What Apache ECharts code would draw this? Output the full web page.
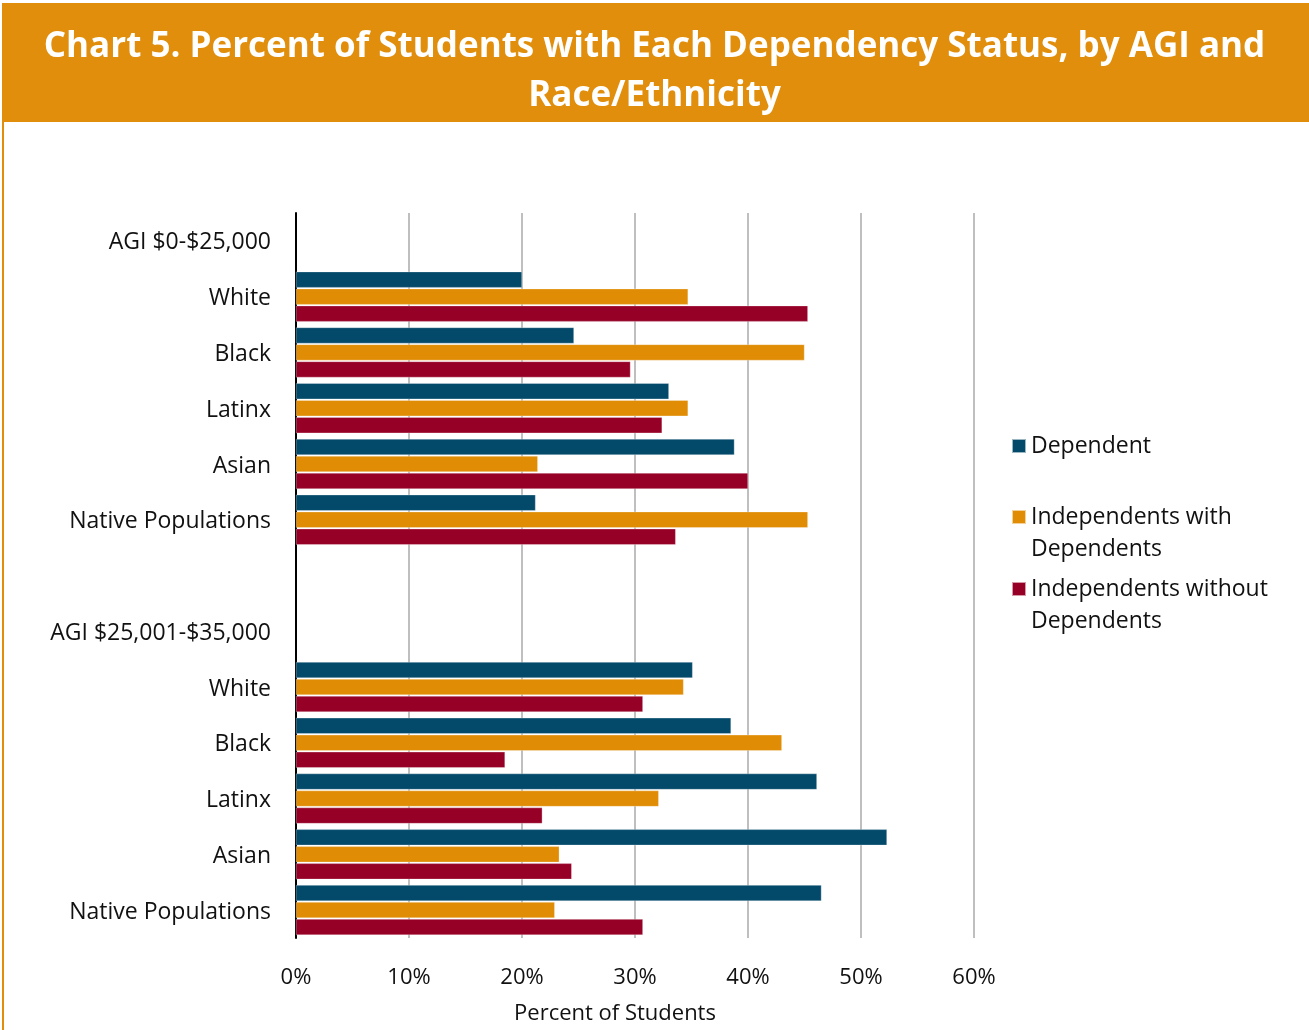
<!DOCTYPE html>
<html>
<head>
<meta charset="utf-8">
<title>Chart 5</title>
<script src="https://cdn.jsdelivr.net/npm/echarts@6/dist/echarts.min.js"></script>
<style>
  html, body { margin: 0; padding: 0; background: #fff; }
  #chart { width: 1309px; height: 1030px; }
</style>
</head>
<body>
<div id="chart"></div>
<script>
// Rows of the y axis, top to bottom (group headers and a spacer row carry no bars)
const categories = [
  'AGI $0-$25,000', 'White', 'Black', 'Latinx', 'Asian', 'Native Populations',
  '',
  'AGI $25,001-$35,000', 'White', 'Black', 'Latinx', 'Asian', 'Native Populations'
];

// Percent of students in each row
const dependent = [null, 20.0, 24.6, 33.0, 38.8, 21.2, null, null, 35.1, 38.5, 46.1, 52.3, 46.5];
const indepWith = [null, 34.7, 45.0, 34.7, 21.4, 45.3, null, null, 34.3, 43.0, 32.1, 23.3, 22.9];
const indepWithout = [null, 45.3, 29.6, 32.4, 40.0, 33.6, null, null, 30.7, 18.5, 21.8, 24.4, 30.7];

const xTicks = [0, 10, 20, 30, 40, 50, 60];

const seriesNames = ['Dependent', 'Independents with Dependents', 'Independents without Dependents'];
const colors = ['#03496A', '#E08C04', '#960026'];

const FONT = '"Open Sans", "Liberation Sans", sans-serif';
const chart = echarts.init(document.getElementById('chart'), null, { renderer: 'canvas' });

// Square swatch sitting at the top of a taller box, so it lines up with
// the first line of a two-line legend label.
const TALL_SWATCH = 'path://M0,0L14,0L14,14L0,14Z M0,46L14,46L14,46L0,46Z';

function legendFor(name, top, label) {
  const twoLines = label.indexOf('\n') >= 0;
  return {
    data: [name],
    left: 1011,
    top: top,
    padding: 0,
    orient: 'vertical',
    itemWidth: 14,
    itemHeight: twoLines ? 46 : 14,
    itemGap: 0,
    icon: twoLines ? TALL_SWATCH : 'rect',
    selectedMode: false,
    formatter: () => label,
    textStyle: { fontFamily: FONT, fontSize: 23, color: '#111', lineHeight: 32 }
  };
}

const option = {
  backgroundColor: '#fff',
  animation: false,
  graphic: [
    { type: 'rect', z: -1, shape: { x: 3, y: 4, width: 1310, height: 1030 },
      style: { fill: '#fff', stroke: '#E08E0B', lineWidth: 2 } },
    { type: 'rect', z: 0, shape: { x: 3, y: 4, width: 1310, height: 118 },
      style: { fill: '#E08E0B' } }
  ],
  title: {
    text: 'Chart 5. Percent of Students with Each Dependency Status, by AGI and\nRace/Ethnicity',
    left: 'center',
    top: 18,
    textStyle: {
      fontFamily: FONT, fontWeight: 'bold', fontSize: 35, color: '#fff',
      lineHeight: 49, align: 'center'
    }
  },
  legend: [
    legendFor(seriesNames[0], 430, 'Dependent'),
    legendFor(seriesNames[1], 501, 'Independents with\nDependents'),
    legendFor(seriesNames[2], 573, 'Independents without\nDependents')
  ],
  grid: { left: 296, right: 335, top: 213, bottom: 89, containLabel: false },
  xAxis: {
    type: 'value',
    min: xTicks[0],
    max: xTicks[xTicks.length - 1],
    interval: 10,
    name: 'Percent of Students',
    nameLocation: 'middle',
    nameGap: 65,
    nameTextStyle: { fontFamily: FONT, fontSize: 22, color: '#111', padding: [0, 40, 0, 0] },
    axisLine: { show: false },
    axisTick: { show: false },
    axisLabel: {
      fontFamily: FONT, fontSize: 22, color: '#111', margin: 29,
      formatter: v => v + '%'
    },
    splitLine: { show: true, lineStyle: { color: '#BFBFBF', width: 2 } }
  },
  yAxis: {
    type: 'category',
    inverse: true,
    data: categories,
    axisLine: { show: true, lineStyle: { color: '#000', width: 2 } },
    axisTick: { show: false },
    axisLabel: {
      fontFamily: FONT, fontSize: 23, color: '#111', margin: 25,
      formatter: v => '{t|' + v + '}',
      rich: { t: { fontFamily: FONT, fontSize: 23, color: '#111', padding: [4, 0, 0, 0] } }
    },
    splitLine: { show: false }
  },
  series: [dependent, indepWith, indepWithout].map((d, i) => ({
    name: seriesNames[i],
    type: 'bar',
    data: d,
    barWidth: 16,
    barGap: '6.25%',
    itemStyle: { color: colors[i], borderColor: 'rgba(255,255,255,0.6)', borderWidth: 0.5 },
    emphasis: { disabled: true }
  }))
};

chart.setOption(option);
</script>
</body>
</html>
